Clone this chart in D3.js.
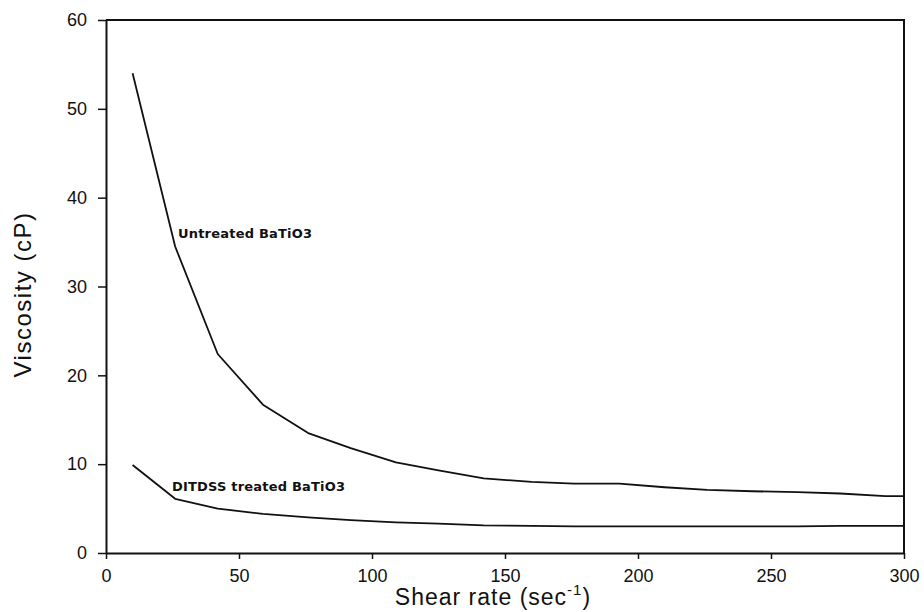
<!DOCTYPE html>
<html>
<head>
<meta charset="utf-8">
<script src="https://cdn.jsdelivr.net/npm/d3@7"></script>
<style>
  body { margin: 0; background: #fff; }
  svg { display: block; }
</style>
</head>
<body>
<div id="chart"></div>
<script>

// shear rate (1/s) and viscosity (cP)
var shear_untreated = [10, 26, 42, 59, 76, 92, 109, 125, 142, 160, 176, 193, 210, 226, 243, 260, 276, 293, 300];
var visc_untreated  = [54, 34.5, 22.4, 16.7, 13.5, 11.8, 10.2, 9.3, 8.4, 8.0, 7.8, 7.8, 7.4, 7.1, 6.95, 6.85, 6.7, 6.4, 6.4];

var shear_treated = [10, 26, 42, 59, 76, 92, 109, 125, 142, 160, 176, 193, 210, 226, 243, 260, 276, 293, 300];
var visc_treated  = [9.9, 6.1, 5.0, 4.4, 4.0, 3.7, 3.45, 3.3, 3.1, 3.05, 3.0, 3.0, 3.0, 3.0, 3.0, 3.0, 3.05, 3.05, 3.05];

var x_ticks = [0, 50, 100, 150, 200, 250, 300];
var y_ticks = [0, 10, 20, 30, 40, 50, 60];

var svg_width = 924;
var svg_height = 612;
// note: "top" is taken by window.top, so prefix these
var plot_left = 106, plot_right = 904, plot_top = 20, plot_bottom = 553;
var tick_font = "18px 'Liberation Sans', Arial, sans-serif";

var x = d3.scaleLinear().domain([0, 300]).range([plot_left, plot_right]);
var y = d3.scaleLinear().domain([0, 60]).range([plot_bottom, plot_top]);

var svg = d3.select('#chart')
            .append('svg')
            .attr('width', svg_width)
            .attr('height', svg_height);

// frame top + right
svg.append('path')
   .attr('d', 'M' + x.range()[0] + ',' + y.range()[1] + 'H' + x.range()[1] + 'V' + y.range()[0])
   .attr('fill', 'none')
   .attr('stroke', '#111')
   .attr('stroke-width', 2);

var xAxis = svg.append('g')
   .attr('transform', 'translate(0,' + plot_bottom + ')')
   .call(d3.axisBottom(x).tickValues(x_ticks).tickSize(6).tickPadding(10).tickSizeOuter(0));

var yAxis = svg.append('g')
   .attr('transform', 'translate(' + plot_left + ',0)')
   .call(d3.axisLeft(y).tickValues(y_ticks).tickSize(8).tickPadding(11).tickSizeOuter(0));

[xAxis, yAxis].forEach(function(a) {
  a.select('.domain').attr('stroke', '#111').attr('stroke-width', 2);
  a.selectAll('.tick line').attr('stroke', '#111').attr('stroke-width', 1.5);
  a.selectAll('.tick text').style('font', tick_font).attr('fill', '#111');
});

var line = d3.line()
             .x(function(d) { return x(d[0]); })
             .y(function(d) { return y(d[1]); });

var series = [d3.zip(shear_untreated, visc_untreated), d3.zip(shear_treated, visc_treated)];

svg.selectAll('path.curve')
   .data(series)
   .enter()
     .append('path')
     .attr('class', 'curve')
     .attr('d', line)
     .attr('fill', 'none')
     .attr('stroke', '#111')
     .attr('stroke-width', 1.8)
     .attr('stroke-linejoin', 'round');

// curve labels
svg.append('text')
   .attr('x', 178)
   .attr('y', 238)
   .style('font', "600 13px 'DejaVu Sans', sans-serif")
   .attr('textLength', 134)
   .attr('fill', '#111')
   .text('Untreated BaTiO3');

svg.append('text')
   .attr('x', 172)
   .attr('y', 491)
   .style('font', "600 13px 'DejaVu Sans', sans-serif")
   .attr('textLength', 173)
   .attr('fill', '#111')
   .text('DITDSS treated BaTiO3');

// axis titles
var xt = svg.append('text')
   .attr('x', 493)
   .attr('y', 605)
   .attr('text-anchor', 'middle')
   .style('font', "23px 'Liberation Sans', Arial, sans-serif")
   .style('letter-spacing', '1px')
   .attr('fill', '#111');
xt.append('tspan').text('Shear rate (sec');
xt.append('tspan').attr('dy', -10).style('font-size', '15px').text('-1');
xt.append('tspan').attr('dy', 10).text(')');

svg.append('text')
   .attr('transform', 'translate(31,' + ((plot_top + plot_bottom) / 2 + 8) + ') rotate(-90)')
   .attr('text-anchor', 'middle')
   .style('font', "24px 'Liberation Sans', Arial, sans-serif")
   .style('letter-spacing', '1.5px')
   .attr('fill', '#111')
   .text('Viscosity (cP)');

</script>
</body>
</html>
